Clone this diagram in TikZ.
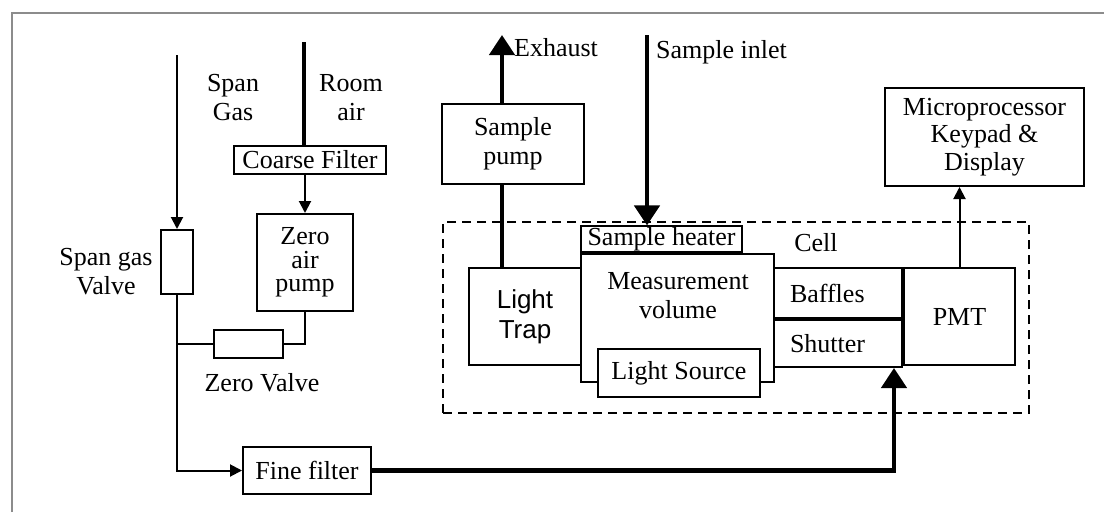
\documentclass[tikz,border=0pt]{standalone}
\usepackage{fontspec}
\setmainfont{Liberation Serif}
\newfontfamily\arialfont{Liberation Sans}
\usetikzlibrary{arrows.meta, calc, positioning}

\begin{document}
\begin{tikzpicture}[
  x=1pt, y=-1pt,
  font=\fontsize{26}{29}\selectfont,
  box/.style={draw, line width=2pt, inner sep=1pt, align=center, fill=white},
  lbl/.style={inner sep=0pt, align=center},
  pipe/.style={line width=2pt},
  arrow/.style={line width=2pt, -{Triangle[length=12pt, width=12pt]}},
  bigpipe/.style={line width=4.5pt},
  bigarrow/.style={line width=4.5pt, -{Triangle[length=20pt, width=25pt]}},
  cellbox/.style={draw, line width=2.2pt, dash pattern=on 9pt off 6pt},
  frameline/.style={draw=black!45, line width=1.2pt}
]
\useasboundingbox (0,0) rectangle (1104,512);

% Frame
\draw[frameline] (12,512) -- (12,13) -- (1104,13);

% Span gas side
\coordinate (spanin) at (177,55);
\node[lbl] (spangas) at (233,98) {Span\\Gas};
\node[box, minimum width=32pt, minimum height=64pt] (spanvalve) at (177,262) {};
\node[lbl] (spanlbl) at (106,272) {Span gas\\Valve};

% Zero air side
\coordinate (roomin) at (304,42);
\node[lbl] (roomair) at (351,98) {Room\\air};
\node[box, minimum width=152pt, minimum height=28pt] (coarse) at (310,160) {Coarse Filter};
\node[box, minimum width=96pt, minimum height=97pt, font=\fontsize{26}{23.5}\selectfont] (zeropump) at (305,262.5) {Zero\\air\\pump};
\node[box, minimum width=69pt, minimum height=28pt] (zerovalve) at (248.5,344) {};
\node[lbl] (zerolbl) at (262,383) {Zero Valve};
\node[box, minimum width=128pt, minimum height=47pt] (finefilter) at (307,470.5) {Fine filter};

% Cell
\node[cellbox, minimum width=586pt, minimum height=191pt] (cell) at (736,317.5) {};
\node[lbl] (celllbl) at (816,243) {Cell};
\node[box, minimum width=112pt, minimum height=97pt, font=\arialfont\fontsize{26}{30}\selectfont] (lighttrap) at (525,316.5) {Light\\Trap};
\node[box, minimum width=193pt, minimum height=128pt] (meas) at (677.5,318) {};
\node[lbl] (meastxt) at (678,296) {Measurement\\volume};
\node[box, minimum width=161pt, minimum height=25pt, anchor=south west] (heater) at (meas.north west) {Sample heater};
\node[box, minimum width=162pt, minimum height=48pt] (lightsrc) at (679,373) {Light Source};
\node[box, minimum width=128pt, minimum height=50pt, text width=96pt, inner xsep=16pt, inner ysep=1pt, align=left] (baffles) at (838,293) {Baffles};
\node[box, minimum width=128pt, minimum height=47pt, text width=96pt, inner xsep=16pt, inner ysep=1pt, align=left, below=0pt of baffles] (shutter) {Shutter};
\node[box, minimum width=111pt, minimum height=97pt, right=0pt of baffles.north east, anchor=north west] (pmt) {PMT};

% Pump, inlet and display
\coordinate (exhaust) at (502,35);
\coordinate (inlet) at (647,35);
\node[box, minimum width=142pt, minimum height=80pt] (samplepump) at (513,144) {Sample\\pump};
\node[lbl, anchor=west] (exhaustlbl) at (514,48) {Exhaust};
\node[lbl, anchor=west] (inletlbl) at (656,52) {Sample inlet};
\node[box, minimum width=199pt, minimum height=98pt, font=\fontsize{26}{27.5}\selectfont] (micro) at (984.5,137) {Microprocessor\\Keypad \&\\Display};

% Arrows
\draw[arrow] (spanin) -- (spanvalve.north);
\draw[bigpipe] (roomin) -- (roomin |- coarse.north);
\draw[arrow] (zeropump.north |- coarse.south) -- (zeropump.north);
\draw[pipe] (zeropump.south) |- (zerovalve.east);
\draw[pipe] (zerovalve.west) -- (zerovalve.west -| spanvalve.south);
\draw[arrow] (spanvalve.south) |- (finefilter.west);
\draw[bigarrow] (finefilter.east) -| ($(shutter.south east)+(-9,0)$);
\draw[bigpipe] (lighttrap.north -| exhaust) -- (samplepump.south -| exhaust);
\draw[bigarrow] (samplepump.north -| exhaust) -- (exhaust);
\draw[bigarrow] (inlet) -- (inlet |- heater.north);
\draw[arrow] (pmt.north) -- (pmt.north |- micro.south);

\end{tikzpicture}
\end{document}
